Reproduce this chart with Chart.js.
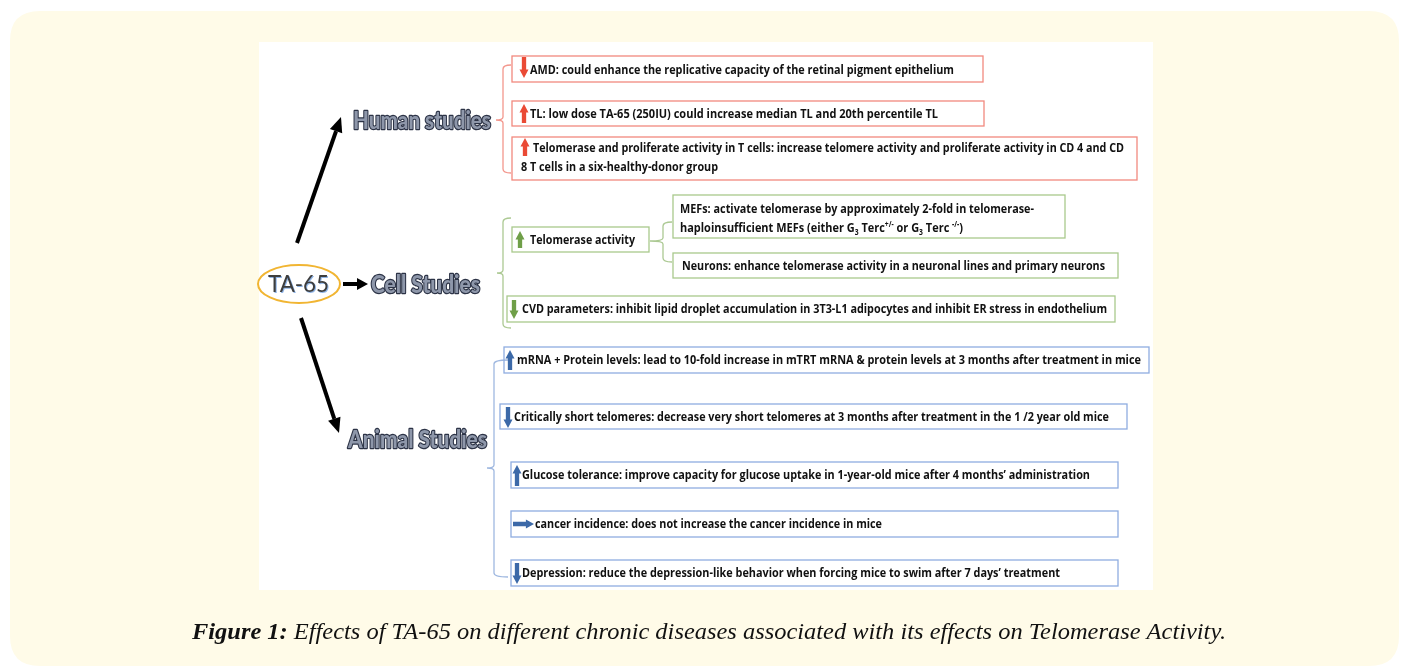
<!DOCTYPE html>
<html>
<head>
<meta charset="utf-8">
<script src="https://cdn.jsdelivr.net/npm/chart.js@4"></script>
<style>
html,body{margin:0;padding:0;background:#ffffff;}
#wrap{position:relative;width:1403px;height:667px;}
</style>
</head>
<body>
<div id="wrap"><canvas id="c"></canvas></div>
<script>
// ---------- content (text / values) ----------
const rootLabel = 'TA-65';
const groups = ['Human studies', 'Cell Studies', 'Animal Studies'];

const humanEffects = [
  ['AMD: could enhance the replicative capacity of the retinal pigment epithelium'],
  ['TL: low dose TA-65 (250IU) could increase median TL and 20th percentile TL'],
  ['Telomerase and proliferate activity in T cells: increase telomere activity and proliferate activity in CD 4 and CD',
   '8 T cells in a six-healthy-donor group']
];
const humanTrend = ['down', 'up', 'up'];

const cellEffects = [
  ['Telomerase activity'],
  ['MEFs: activate telomerase by approximately 2-fold in telomerase-',
   [{t:'haploinsufficient MEFs (either G'},{t:'3',s:'sub'},{t:' Terc'},{t:'+/-',s:'sup'},{t:' or G'},{t:'3',s:'sub'},{t:' Terc '},{t:'-/-',s:'sup'},{t:')'}]],
  ['Neurons: enhance telomerase activity in a neuronal lines and primary neurons'],
  ['CVD parameters: inhibit lipid droplet accumulation in 3T3-L1 adipocytes and inhibit ER stress in endothelium']
];
const cellTrend = ['up', null, null, 'down'];

const animalEffects = [
  ['mRNA + Protein levels: lead to 10-fold increase in mTRT mRNA & protein levels at 3 months after treatment in mice'],
  ['Critically short telomeres: decrease very short telomeres at 3 months after treatment in the 1 /2 year old mice'],
  ['Glucose tolerance: improve capacity for glucose uptake in 1-year-old mice after 4 months\u2019 administration'],
  ['cancer incidence: does not increase the cancer incidence in mice'],
  ['Depression: reduce the depression-like behavior when forcing mice to swim after 7 days\u2019 treatment']
];
const animalTrend = ['up', 'down', 'up', 'right', 'down'];

const captionBold = 'Figure 1:';
const captionText = ' Effects of TA-65 on different chronic diseases associated with its effects on Telomerase Activity.';

// ---------- layout (positions in page units, used via scales) ----------
const humanBoxes = [
  {x0:512,y0:56,x1:983,y1:82, lines:[{x:530,y:70,x1:954}], arrow:{x:524,y0:57,y1:78}},
  {x0:512,y0:101,x1:984,y1:126, lines:[{x:530,y:114,x1:938}], arrow:{x:524,y0:104,y1:123}},
  {x0:512,y0:137,x1:1137,y1:180, lines:[{x:533,y:148,x1:1124},{x:521,y:167,x1:718}], arrow:{x:525,y0:138,y1:156}}
];
const cellBoxes = [
  {x0:512,y0:227,x1:649,y1:252, lines:[{x:530,y:240,x1:635}], arrow:{x:520,y0:231,y1:248}},
  {x0:673,y0:195,x1:1065,y1:238, lines:[{x:680,y:209,x1:1034},{x:680,y:228,x1:963}]},
  {x0:673,y0:253,x1:1118,y1:278, lines:[{x:682,y:266,x1:1105}]},
  {x0:507,y0:296,x1:1115,y1:322, lines:[{x:522,y:309,x1:1107}], arrow:{x:514,y0:300,y1:319}}
];
const animalBoxes = [
  {x0:504,y0:347,x1:1149,y1:373, lines:[{x:517,y:360,x1:1141}], arrow:{x:510,y0:350,y1:370}},
  {x0:500,y0:404,x1:1127,y1:429, lines:[{x:514,y:417,x1:1109}], arrow:{x:508,y0:407,y1:428}},
  {x0:511,y0:462,x1:1118,y1:488, lines:[{x:522,y:475,x1:1090}], arrow:{x:517,y0:465,y1:486}},
  {x0:511,y0:511,x1:1118,y1:537, lines:[{x:535,y:524,x1:882}], arrow:{x0:513,x1:534,y:524}},
  {x0:511,y0:560,x1:1118,y1:586, lines:[{x:522,y:573,x1:1060}], arrow:{x:517,y0:563,y1:584}}
];
const groupLabels = [
  {x0:353,x1:491,y:121},
  {x0:371,x1:480,y:285},
  {x0:348,x1:487,y:440}
];
const brackets = [
  {x:503,y0:65,y1:173,ym:120,xl:496,xr:511,color:'#f3978d'},
  {x:503,y0:218,y1:328,ym:273,xl:497,xr:511,color:'#acc993'},
  {x:663,y0:222,y1:262,ym:241,xl:650,xr:672,color:'#acc993'},
  {x:494,y0:360,y1:577,ym:468,xl:487,xr:508,color:'#9fb8e0'}
];
const styles = {
  red:{stroke:'#f2897e', arrow:'#ea4a35'},
  green:{stroke:'#a9c98c', arrow:'#6f9f48'},
  blue:{stroke:'#8fade0', arrow:'#3c69a8'}
};

// anchor points (one per node) so every mark is placed through the chart's scales
const anchors = [];
[humanBoxes, cellBoxes, animalBoxes].forEach(g => g.forEach(b => anchors.push({x:b.x0, y:b.y0})));

const FAMILY = '"Open Sans", Lato, "DejaVu Sans", sans-serif';

function fitText(ctx, text, x, y, w, font) {
  ctx.font = font;
  const m = ctx.measureText(text).width;
  ctx.save();
  ctx.translate(x, y);
  ctx.scale(w / m, 1);
  ctx.fillText(text, 0, 0);
  ctx.restore();
}
function fitRuns(ctx, runs, x, y, w, size, weight) {
  const fonts = runs.map(r => `${weight} ${r.s ? size*0.62 : size}px ${FAMILY}`);
  let total = 0;
  const widths = runs.map((r,i) => { ctx.font = fonts[i]; const v = ctx.measureText(r.t).width; total += v; return v; });
  ctx.save();
  ctx.translate(x, y);
  ctx.scale(w / total, 1);
  let off = 0;
  runs.forEach((r,i) => {
    ctx.font = fonts[i];
    const dy = r.s === 'sub' ? size*0.3 : (r.s === 'sup' ? -size*0.3 : 0);
    ctx.fillText(r.t, off, dy);
    off += widths[i];
  });
  ctx.restore();
}
function blockArrowV(ctx, cx, yA, yB, dir, color, w) {
  const hw = w/2, sw = w*0.24, hl = w*0.95;
  ctx.fillStyle = color;
  ctx.beginPath();
  if (dir === 'up') {
    ctx.moveTo(cx, yA);
    ctx.lineTo(cx+hw, yA+hl); ctx.lineTo(cx+sw, yA+hl); ctx.lineTo(cx+sw, yB);
    ctx.lineTo(cx-sw, yB); ctx.lineTo(cx-sw, yA+hl); ctx.lineTo(cx-hw, yA+hl);
  } else {
    ctx.moveTo(cx, yB);
    ctx.lineTo(cx+hw, yB-hl); ctx.lineTo(cx+sw, yB-hl); ctx.lineTo(cx+sw, yA);
    ctx.lineTo(cx-sw, yA); ctx.lineTo(cx-sw, yB-hl); ctx.lineTo(cx-hw, yB-hl);
  }
  ctx.closePath(); ctx.fill();
}
function blockArrowH(ctx, x0, x1, cy, color, h) {
  const hh = h/2, sw = h*0.26, hl = h*0.9;
  ctx.fillStyle = color;
  ctx.beginPath();
  ctx.moveTo(x1, cy); ctx.lineTo(x1-hl, cy-hh); ctx.lineTo(x1-hl, cy-sw); ctx.lineTo(x0, cy-sw);
  ctx.lineTo(x0, cy+sw); ctx.lineTo(x1-hl, cy+sw); ctx.lineTo(x1-hl, cy+hh);
  ctx.closePath(); ctx.fill();
}
function lineArrow(ctx, xA, yA, xB, yB, lw, hl, hw) {
  const ang = Math.atan2(yB-yA, xB-xA);
  const bx = xB - Math.cos(ang)*hl, by = yB - Math.sin(ang)*hl;
  ctx.strokeStyle = '#000'; ctx.fillStyle = '#000'; ctx.lineWidth = lw;
  ctx.beginPath(); ctx.moveTo(xA, yA); ctx.lineTo(bx, by); ctx.stroke();
  ctx.beginPath();
  ctx.moveTo(xB, yB);
  ctx.lineTo(bx + Math.sin(ang)*hw/2, by - Math.cos(ang)*hw/2);
  ctx.lineTo(bx - Math.sin(ang)*hw/2, by + Math.cos(ang)*hw/2);
  ctx.closePath(); ctx.fill();
}
function roundRect(ctx, x, y, w, h, r) {
  ctx.beginPath();
  ctx.moveTo(x+r, y); ctx.lineTo(x+w-r, y); ctx.quadraticCurveTo(x+w, y, x+w, y+r);
  ctx.lineTo(x+w, y+h-r); ctx.quadraticCurveTo(x+w, y+h, x+w-r, y+h);
  ctx.lineTo(x+r, y+h); ctx.quadraticCurveTo(x, y+h, x, y+h-r);
  ctx.lineTo(x, y+r); ctx.quadraticCurveTo(x, y, x+r, y); ctx.closePath();
}

const diagramPlugin = {
  id: 'diagram',
  beforeDatasetsDraw(chart) {
    const ctx = chart.ctx;
    const X = v => chart.scales.x.getPixelForValue(v);
    const Y = v => chart.scales.y.getPixelForValue(v);
    ctx.save();
    ctx.fillStyle = '#fffbe8';
    roundRect(ctx, X(10), Y(11), X(1399)-X(10), Y(666)-Y(11), 30); ctx.fill();
    ctx.fillStyle = '#ffffff';
    ctx.fillRect(X(259), Y(42), X(1153)-X(259), Y(590)-Y(42));

    brackets.forEach(b => {
      ctx.strokeStyle = b.color; ctx.lineWidth = 1.3;
      ctx.beginPath();
      ctx.moveTo(X(b.xr), Y(b.y0)); ctx.quadraticCurveTo(X(b.x), Y(b.y0), X(b.x), Y(b.y0+4));
      ctx.lineTo(X(b.x), Y(b.ym-3)); ctx.quadraticCurveTo(X(b.x), Y(b.ym), X(b.xl), Y(b.ym));
      ctx.quadraticCurveTo(X(b.x), Y(b.ym), X(b.x), Y(b.ym+3));
      ctx.lineTo(X(b.x), Y(b.y1-4)); ctx.quadraticCurveTo(X(b.x), Y(b.y1), X(b.xr), Y(b.y1));
      ctx.stroke();
    });

    const drawGroup = (boxes, effects, trends, st) => {
      boxes.forEach((b, i) => {
        ctx.strokeStyle = st.stroke; ctx.lineWidth = 1.3;
        ctx.strokeRect(X(b.x0), Y(b.y0), X(b.x1)-X(b.x0), Y(b.y1)-Y(b.y0));
        ctx.textBaseline = 'middle'; ctx.textAlign = 'left';
        b.lines.forEach((ln, j) => {
          const t = effects[i][j];
          ctx.fillStyle = '#111111';
          if (Array.isArray(t)) fitRuns(ctx, t, X(ln.x), Y(ln.y)+0.5, X(ln.x1)-X(ln.x), 13, 'bold');
          else fitText(ctx, t, X(ln.x), Y(ln.y)+0.5, X(ln.x1)-X(ln.x), `bold 13px ${FAMILY}`);
        });
        const tr = trends[i];
        if (tr && b.arrow) {
          if (tr === 'right') blockArrowH(ctx, X(b.arrow.x0), X(b.arrow.x1), Y(b.arrow.y), st.arrow, 9);
          else blockArrowV(ctx, X(b.arrow.x), Y(b.arrow.y0), Y(b.arrow.y1), tr, st.arrow, 9);
        }
      });
    };
    drawGroup(humanBoxes, humanEffects, humanTrend, styles.red);
    drawGroup(cellBoxes, cellEffects, cellTrend, styles.green);
    drawGroup(animalBoxes, animalEffects, animalTrend, styles.blue);

    // root ellipse
    ctx.strokeStyle = '#f1b532'; ctx.lineWidth = 2;
    ctx.beginPath(); ctx.ellipse(X(299), Y(284), X(340)-X(299), Y(303)-Y(284), 0, 0, Math.PI*2); ctx.stroke();
    ctx.textBaseline = 'middle';
    ctx.fillStyle = '#8fb4e6';
    fitText(ctx, rootLabel, X(268)+1, Y(284)+1, X(329)-X(268), `24px Lato, sans-serif`);
    ctx.fillStyle = '#3d3d3d';
    fitText(ctx, rootLabel, X(268), Y(284), X(329)-X(268), `24px Lato, sans-serif`);

    lineArrow(ctx, X(297), Y(243), X(341), Y(117), 4, 15, 13);
    lineArrow(ctx, X(343), Y(284), X(368), Y(284), 4, 11, 12);
    lineArrow(ctx, X(301), Y(318), X(339), Y(433), 4, 15, 13);

    groupLabels.forEach((g, i) => {
      const font = `900 24px Lato, sans-serif`;
      ctx.font = font;
      const m = ctx.measureText(groups[i]).width;
      ctx.save();
      ctx.translate(X(g.x0), Y(g.y));
      ctx.scale((X(g.x1)-X(g.x0))/m, 1);
      ctx.lineJoin = 'round';
      ctx.strokeStyle = '#2c3346'; ctx.lineWidth = 2.4;
      ctx.strokeText(groups[i], 0, 0);
      ctx.fillStyle = '#8e97aa';
      ctx.fillText(groups[i], 0, 0);
      ctx.restore();
    });

    // caption
    ctx.fillStyle = '#111';
    ctx.textBaseline = 'middle';
    const capFontB = `italic bold 24px "Liberation Serif", serif`;
    const capFont = `italic 24px "Liberation Serif", serif`;
    ctx.font = capFontB; const wb = ctx.measureText(captionBold).width;
    ctx.font = capFont; const wt = ctx.measureText(captionText).width;
    const target = X(1226) - X(192);
    const s = target / (wb + wt);
    ctx.save();
    ctx.translate(X(192), Y(633));
    ctx.scale(s, 1);
    ctx.font = capFontB; ctx.fillText(captionBold, 0, 0);
    ctx.font = capFont; ctx.fillText(captionText, wb, 0);
    ctx.restore();

    ctx.restore();
  }
};

new Chart(document.getElementById('c'), {
  type: 'scatter',
  data: { datasets: [{ data: anchors, pointRadius: 0, pointHoverRadius: 0, showLine: false }] },
  options: {
    responsive: true, maintainAspectRatio: false, animation: false,
    layout: { padding: 0 },
    plugins: { legend: { display: false }, tooltip: { enabled: false } },
    events: [],
    scales: {
      x: { type: 'linear', min: 0, max: 1403, display: false },
      y: { type: 'linear', min: 0, max: 667, reverse: true, display: false }
    }
  },
  plugins: [diagramPlugin]
});
</script>
</body>
</html>
